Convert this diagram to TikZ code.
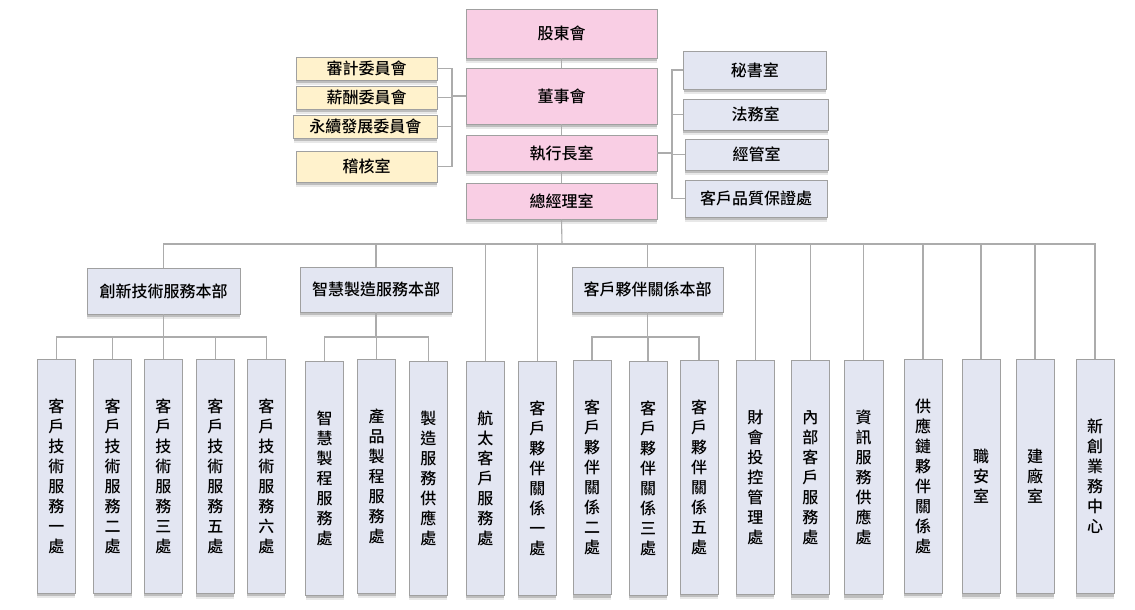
\documentclass[tikz,border=0pt]{standalone}
\usepackage{fontspec}
\newfontfamily\cjk{Noto Sans CJK TC}[UprightFont={* Medium}]
\usetikzlibrary{shadows}
\definecolor{pinkf}{RGB}{249,206,228}
\definecolor{bluef}{RGB}{227,230,242}
\definecolor{yelf}{RGB}{255,242,204}
\definecolor{bord}{RGB}{160,160,160}
\definecolor{connc}{RGB}{172,172,172}
\tikzset{
  sh/.style={drop shadow={shadow xshift=0pt,shadow yshift=-5pt,fill=black,opacity=0.09},
             drop shadow={shadow xshift=0pt,shadow yshift=-3pt,fill=black,opacity=0.18}},
  base/.style={sh,draw=bord,line width=0.9pt,inner sep=0pt,align=center,
               font=\cjk\fontsize{16}{20}\selectfont},
  topbox/.style={base,fill=pinkf,minimum width=191pt},
  yelbox/.style={base,fill=yelf,minimum width=141pt},
  sidebox/.style={base,fill=bluef,minimum width=143pt},
  divbox/.style={base,fill=bluef,minimum width=152pt,minimum height=45pt},
  colbox/.style={base,fill=bluef,minimum width=38pt,minimum height=234pt},
  conn/.style={draw=connc,line width=1.1pt}
}
\begin{document}
\begin{tikzpicture}[x=1pt,y=-1pt]
\useasboundingbox[fill=white] (0,0) rectangle (1135,610);
% connectors coordinates
\coordinate (lb) at (452,0);
\coordinate (rb) at (672,0);
\coordinate (bus) at (562,244);
\coordinate (sb) at (0,337);

% top chain
\node[topbox,minimum height=49pt] (sh) at (561.5,33.5) {股東會};
\node[topbox,minimum height=56pt] (board) at (561.5,96) {董事會};
\node[topbox,minimum height=36pt] (ceo) at (561.5,153) {執行長室};
\node[topbox,minimum height=36pt] (gm) at (561.5,201) {總經理室};

% left committees
\node[yelbox,minimum height=23pt] (aud) at (366.5,68.5) {審計委員會};
\node[yelbox,minimum height=23pt] (pay) at (366.5,97.5) {薪酬委員會};
\node[yelbox,minimum height=23pt,minimum width=143.5pt] (sus) at (365.25,126.5) {永續發展委員會};
\node[yelbox,minimum height=31pt] (ia) at (366.5,166.5) {稽核室};

% right offices
\node[sidebox,minimum height=38pt,minimum width=142.5pt] (sec) at (754.75,70) {秘書室};
\node[sidebox,minimum height=31pt,minimum width=145pt] (law) at (755.5,114.5) {法務室};
\node[sidebox,minimum height=31pt] (mgt) at (756.5,154.5) {經管室};
\node[sidebox,minimum height=37pt,minimum width=142pt] (qa) at (756,198.5) {客戶品質保證處};

% divisions
\node[divbox,minimum height=46pt,minimum width=153pt] (d1) at (163.5,291) {創新技術服務本部};
\node[divbox] (d2) at (376,289.5) {智慧製造服務本部};
\node[divbox,minimum width=151pt] (d3) at (647.5,289.5) {客戶夥伴關係本部};

% columns
\node[colbox] (c1) at (56.25,476) {客\\戶\\技\\術\\服\\務\\一\\處};
\node[colbox] (c2) at (112.5,476) {客\\戶\\技\\術\\服\\務\\二\\處};
\node[colbox] (c3) at (163.25,476) {客\\戶\\技\\術\\服\\務\\三\\處};
\node[colbox] (c4) at (215.25,476.5) {客\\戶\\技\\術\\服\\務\\五\\處};
\node[colbox] (c5) at (266.25,476) {客\\戶\\技\\術\\服\\務\\六\\處};
\node[colbox] (c6) at (324.5,478) {智\\慧\\製\\程\\服\\務\\處};
\node[colbox] (c7) at (376.5,476) {產\\品\\製\\程\\服\\務\\處};
\node[colbox] (c8) at (428.25,478) {製\\造\\服\\務\\供\\應\\處};
\node[colbox] (c9) at (485.25,478) {航\\太\\客\\戶\\服\\務\\處};
\node[colbox] (c10) at (537.25,478) {客\\戶\\夥\\伴\\關\\係\\一\\處};
\node[colbox] (c11) at (592,477.5) {客\\戶\\夥\\伴\\關\\係\\二\\處};
\node[colbox] (c12) at (648,478) {客\\戶\\夥\\伴\\關\\係\\三\\處};
\node[colbox] (c13) at (699,477) {客\\戶\\夥\\伴\\關\\係\\五\\處};
\node[colbox] (c14) at (755.25,477) {財\\會\\投\\控\\管\\理\\處};
\node[colbox] (c15) at (810.25,477.5) {內\\部\\客\\戶\\服\\務\\處};
\node[colbox,minimum width=39pt] (c16) at (863.7,477.5) {資\\訊\\服\\務\\供\\應\\處};
\node[colbox] (c17) at (923,476) {供\\應\\鏈\\夥\\伴\\關\\係\\處};
\node[colbox] (c18) at (981,476.5) {職\\安\\室};
\node[colbox] (c19) at (1035,476.5) {建\\廠\\室};
\node[colbox] (c20) at (1095,476.5) {新\\創\\業\\務\\中\\心};

% spine
\draw[conn] (sh.south) -- (board.north);
\draw[conn] (board.south) -- (ceo.north);
\draw[conn] (ceo.south) -- (gm.north);
\draw[conn] (gm.south) -- (bus);

% left committee bracket
\draw[conn] (aud.east) -- (aud.east -| lb) |- (ia.east);
\draw[conn] (pay.east) -- (pay.east -| lb);
\draw[conn] (sus.east) -- (sus.east -| lb);
\draw[conn] (board.west) -- (board.west -| lb);

% right office bracket
\draw[conn] (sec.west) -- (sec.west -| rb) |- (qa.west);
\draw[conn] (law.west) -- (law.west -| rb);
\draw[conn] (mgt.west) -- (mgt.west -| rb);
\draw[conn] (ceo.east) -- (ceo.east -| rb);

% main bus
\draw[conn] (d1.north) |- (c20.north |- bus) -- (c20.north);
\foreach \n in {d2,c9,c10,d3,c14,c15,c16,c17,c18,c19}
  \draw[conn] (\n.north) -- (\n.north |- bus);

% division sub-buses
\draw[conn] (d1.south) -- (d1.south |- sb);
\draw[conn] (c1.north) |- (c5.north |- sb) -- (c5.north);
\foreach \n in {c2,c3,c4}
  \draw[conn] (\n.north) -- (\n.north |- sb);
\draw[conn] (d2.south) -- (d2.south |- sb);
\draw[conn] (c6.north) |- (c8.north |- sb) -- (c8.north);
\draw[conn] (c7.north) -- (c7.north |- sb);
\draw[conn] (d3.south) -- (d3.south |- sb);
\draw[conn] (c11.north) |- (c13.north |- sb) -- (c13.north);
\draw[conn] (c12.north) -- (c12.north |- sb);
\end{tikzpicture}
\end{document}
